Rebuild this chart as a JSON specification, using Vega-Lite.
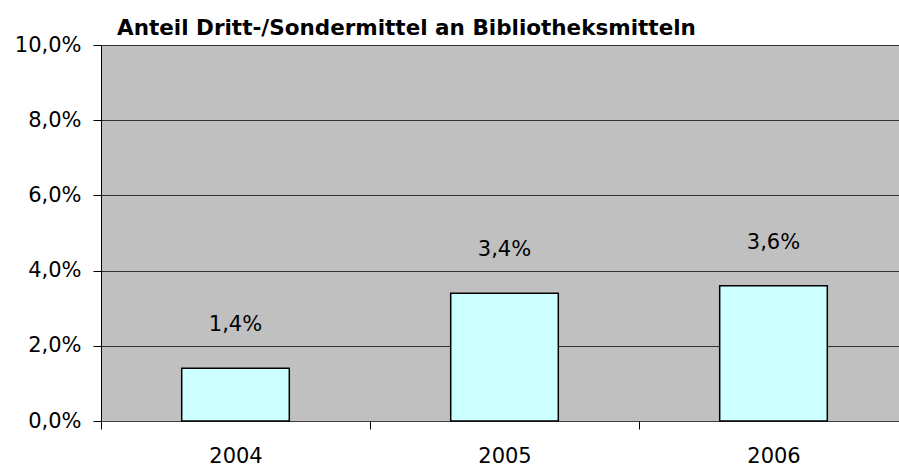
{
  "$schema": "https://vega.github.io/schema/vega-lite/v6.json",
  "width": 807,
  "height": 376,
  "autosize": "none",
  "padding": {"left": 101, "top": 45, "right": 0, "bottom": 49},
  "background": "#ffffff",
  "config": {
    "locale": {"number": {"decimal": ",", "thousands": ".", "grouping": [3], "currency": ["", " €"]}},
    "view": {"stroke": null, "fill": "#c0c0c0"},
    "font": "DejaVu Sans"
  },
  "title": {
    "text": "Anteil Dritt-/Sondermittel an Bibliotheksmitteln",
    "anchor": "start",
    "frame": "group",
    "dx": 16,
    "offset": -5,
    "fontSize": 21.5,
    "fontWeight": "bold",
    "font": "DejaVu Sans",
    "color": "#000000"
  },
  "data": {
    "values": [
      {"year": "2004", "share": 0.014},
      {"year": "2005", "share": 0.034},
      {"year": "2006", "share": 0.036}
    ]
  },
  "encoding": {
    "x": {
      "field": "year",
      "type": "nominal",
      "scale": {"paddingInner": 0, "paddingOuter": 0},
      "axis": {
        "title": null,
        "labelAngle": 0,
        "labelFontSize": 21,
        "labelColor": "#000000",
        "labelPadding": 16,
        "tickBand": "extent",
        "ticks": true,
        "tickSize": 8,
        "tickColor": "#000000",
        "domain": false,
        "grid": false
      }
    },
    "y": {
      "field": "share",
      "type": "quantitative",
      "scale": {"domain": [0, 0.1], "nice": false},
      "axis": {
        "title": null,
        "format": ".1%",
        "values": [0, 0.02, 0.04, 0.06, 0.08, 0.1],
        "labelFontSize": 21,
        "labelColor": "#000000",
        "labelPadding": 12,
        "tickSize": 8,
        "tickColor": "#000000",
        "domainColor": "#000000",
        "grid": true,
        "gridColor": "#000000",
        "gridOpacity": 0.75,
        "gridWidth": 1
      }
    }
  },
  "layer": [
    {
      "mark": {"type": "bar", "width": {"band": 0.4}, "fill": "#ccffff", "stroke": "#000000", "strokeWidth": 1.5}
    },
    {
      "mark": {"type": "text", "dy": -43, "baseline": "middle", "fontSize": 21, "color": "#000000"},
      "encoding": {
        "text": {"field": "share", "type": "quantitative", "format": ".1%"}
      }
    }
  ]
}
